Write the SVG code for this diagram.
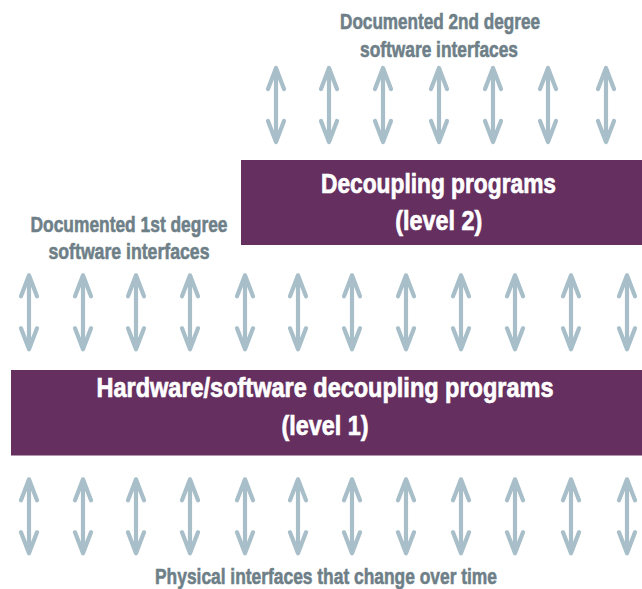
<svg xmlns="http://www.w3.org/2000/svg" xmlns:xlink="http://www.w3.org/1999/xlink" width="642" height="589" viewBox="0 0 642 589">
  <style>
    .box { fill: #652f5f; }
    .title { font-family: "Liberation Sans", Arial, sans-serif; font-weight: bold; font-size: 28px; fill: #ffffff; stroke: #ffffff; stroke-width: 0.7; text-anchor: middle; }
    .label { font-family: "Liberation Sans", Arial, sans-serif; font-weight: bold; font-size: 22.5px; fill: #6e7f88; stroke: #6e7f88; stroke-width: 0.6; text-anchor: middle; }
    .arrow { fill: none; stroke: #a8bfca; stroke-width: 4.2; stroke-linecap: round; stroke-linejoin: round; }
  </style>
  <defs>
    <!-- double-headed vertical arrow, tip at origin, 74 units long -->
    <path id="dbl" class="arrow" d="M0,0 V74 M-8,21 L0,0 L8,21 M-8,53 L0,74 L8,53"/>
  </defs>

  <rect width="642" height="589" fill="#ffffff"/>

  <!-- interface arrows -->
  <g id="connectors">
    <g id="row-2nd-degree">
      <use xlink:href="#dbl" x="276" y="68"/>
      <use xlink:href="#dbl" x="329" y="68"/>
      <use xlink:href="#dbl" x="383" y="68"/>
      <use xlink:href="#dbl" x="439" y="68"/>
      <use xlink:href="#dbl" x="493" y="68"/>
      <use xlink:href="#dbl" x="548" y="68"/>
      <use xlink:href="#dbl" x="606" y="68"/>
    </g>
    <g id="row-1st-degree">
      <use xlink:href="#dbl" x="29" y="275.3"/>
      <use xlink:href="#dbl" x="83" y="275.3"/>
      <use xlink:href="#dbl" x="136" y="275.3"/>
      <use xlink:href="#dbl" x="190" y="275.3"/>
      <use xlink:href="#dbl" x="245" y="275.3"/>
      <use xlink:href="#dbl" x="298" y="275.3"/>
      <use xlink:href="#dbl" x="352" y="275.3"/>
      <use xlink:href="#dbl" x="406" y="275.3"/>
      <use xlink:href="#dbl" x="461" y="275.3"/>
      <use xlink:href="#dbl" x="515" y="275.3"/>
      <use xlink:href="#dbl" x="571" y="275.3"/>
      <use xlink:href="#dbl" x="627" y="275.3"/>
    </g>
    <g id="row-physical">
      <use xlink:href="#dbl" x="29" y="479.3"/>
      <use xlink:href="#dbl" x="83" y="479.3"/>
      <use xlink:href="#dbl" x="136" y="479.3"/>
      <use xlink:href="#dbl" x="190" y="479.3"/>
      <use xlink:href="#dbl" x="245" y="479.3"/>
      <use xlink:href="#dbl" x="298" y="479.3"/>
      <use xlink:href="#dbl" x="352" y="479.3"/>
      <use xlink:href="#dbl" x="406" y="479.3"/>
      <use xlink:href="#dbl" x="461" y="479.3"/>
      <use xlink:href="#dbl" x="515" y="479.3"/>
      <use xlink:href="#dbl" x="571" y="479.3"/>
      <use xlink:href="#dbl" x="627" y="479.3"/>
    </g>
  </g>

  <g id="label-2nd-degree">
    <text class="label" x="440" y="29.3" textLength="200" lengthAdjust="spacingAndGlyphs">Documented 2nd degree</text>
    <text class="label" x="439" y="56.5" textLength="158" lengthAdjust="spacingAndGlyphs">software interfaces</text>
  </g>

  <g id="decoupling-level-2">
    <rect class="box" x="241" y="160" width="401" height="85"/>
    <text class="title" x="438.5" y="192.7" textLength="235" lengthAdjust="spacingAndGlyphs">Decoupling programs</text>
    <text class="title" x="438.7" y="230" textLength="87" lengthAdjust="spacingAndGlyphs">(level 2)</text>
  </g>

  <g id="label-1st-degree">
    <text class="label" x="129" y="232" textLength="197" lengthAdjust="spacingAndGlyphs">Documented 1st degree</text>
    <text class="label" x="129" y="259" textLength="161" lengthAdjust="spacingAndGlyphs">software interfaces</text>
  </g>

  <g id="decoupling-level-1">
    <rect class="box" x="11" y="370" width="631" height="85.5"/>
    <text class="title" x="325" y="396.7" textLength="457" lengthAdjust="spacingAndGlyphs">Hardware/software decoupling programs</text>
    <text class="title" x="325" y="435" textLength="87" lengthAdjust="spacingAndGlyphs">(level 1)</text>
  </g>

  <g id="label-physical">
    <text class="label" x="326" y="583.5" textLength="342" lengthAdjust="spacingAndGlyphs">Physical interfaces that change over time</text>
  </g>
</svg>
